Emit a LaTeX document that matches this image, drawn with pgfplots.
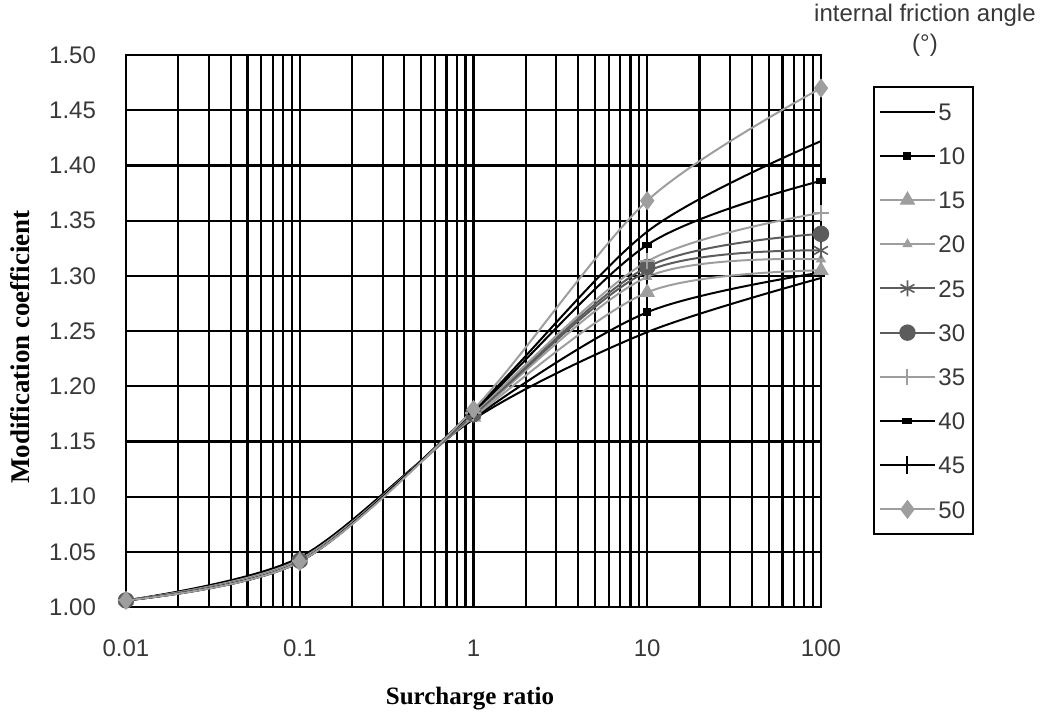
\documentclass[border=0pt]{standalone}
\usepackage{fontspec}
\setmainfont{Liberation Sans}
\newfontfamily\tnr{Liberation Serif}
\usepackage{pgfplots}
\pgfplotsset{compat=1.18}
\definecolor{lgray}{gray}{0.62}
\definecolor{dgray}{gray}{0.36}
\definecolor{txt}{gray}{0.22}

\begin{document}
\begin{tikzpicture}
\useasboundingbox (-63pt,-53.5pt) rectangle (457pt,303.5pt);
\begin{axis}[
  scale only axis, width=347.5pt, height=276pt,
  xmode=log, xmin=0.01, xmax=100, ymin=1, ymax=1.5,
  xtick={0.01,0.1,1,10,100}, xticklabels={0.01,0.1,1,10,100},
  ytick={1,1.05,...,1.51},
  yticklabel style={/pgf/number format/fixed, /pgf/number format/fixed zerofill,
    /pgf/number format/precision=2, xshift=-11.5pt},
  /pgf/number format/assume math mode=true,
  xmajorgrids, xminorgrids, ymajorgrids,
  grid style={black, line width=1.1pt},
  minor grid style={black, line width=1.1pt},
  axis line style={black, line width=1.1pt},
  major tick length=0pt, minor tick length=0pt,
  tick label style={font=\fontsize{12}{12}\selectfont, text=txt},
  xticklabel style={yshift=-13pt},
  xlabel={\tnr\bfseries Surcharge ratio},
  ylabel={\tnr\bfseries Modification coefficient},
  xlabel style={font=\fontsize{12.5}{14}\selectfont, at={(axis description cs:0.495,-0.1667)}, anchor=center},
  ylabel style={font=\fontsize{13.5}{15}\selectfont, at={(axis description cs:-0.1525,0.471)}, anchor=center},
  clip=false,
  every axis plot/.append style={line width=1pt, smooth, tension=0.5},
  legend image code/.code={\draw[mark repeat=2,mark phase=2] plot coordinates {(0pt,0pt) (13.75pt,0pt) (27.5pt,0pt)};},
  legend style={at={(1.0748,0.9438)}, anchor=north west, draw=black, line width=1pt,
    inner xsep=2.5pt, inner ysep=6pt, row sep=9.5pt, text=txt,
    font=\fontsize{12}{12}\selectfont,
    nodes={inner xsep=1.25pt, inner ysep=2pt, text height=8.6pt, text depth=0pt}},
  legend cell align=left,
]
\addplot[black, no marks] coordinates {(0.01,1.006)(0.1,1.045)(1,1.170)(10,1.249)(100,1.298)};
\addlegendentry{5}
\addplot[black, mark=square*, mark size=1.5pt, mark options={solid}] coordinates {(0.01,1.006)(0.1,1.044)(1,1.171)(10,1.267)(100,1.303)};
\addlegendentry{10}
\addplot[lgray, mark=triangle*, mark size=4pt, mark options={solid, line width=0.5pt}] coordinates {(0.01,1.006)(0.1,1.043)(1,1.172)(10,1.285)(100,1.305)};
\addlegendentry{15}
\addplot[lgray, mark=triangle*, mark size=2pt] coordinates {(0.01,1.006)(0.1,1.043)(1,1.173)(10,1.299)(100,1.315)};
\addlegendentry{20}
\addplot[dgray, mark=asterisk, mark size=4pt, mark options={line width=0.8pt}] coordinates {(0.01,1.006)(0.1,1.042)(1,1.174)(10,1.304)(100,1.323)};
\addlegendentry{25}
\addplot[dgray, mark=*, mark size=3.6pt] coordinates {(0.01,1.006)(0.1,1.042)(1,1.175)(10,1.308)(100,1.338)};
\addlegendentry{30}
\addplot[lgray, mark=+, mark size=4pt] coordinates {(0.01,1.006)(0.1,1.042)(1,1.176)(10,1.313)(100,1.357)};
\addlegendentry{35}
\addplot[black, mark=square*, mark size=2pt, mark options={yscale=0.5}] coordinates {(0.01,1.006)(0.1,1.041)(1,1.177)(10,1.328)(100,1.386)};
\addlegendentry{40}
\addplot[black, mark=|, mark size=4.5pt] coordinates {(0.01,1.006)(0.1,1.041)(1,1.178)(10,1.340)(100,1.422)};
\addlegendentry{45}
\addplot[lgray, mark=diamond*, mark size=4pt] coordinates {(0.01,1.006)(0.1,1.041)(1,1.179)(10,1.368)(100,1.470)};
\addlegendentry{50}
\node[font=\fontsize{12}{12}\selectfont, text=txt] at (rel axis cs:1.1496,1.0725) {internal friction angle};
\node[font=\fontsize{12}{12}\selectfont, text=txt] at (rel axis cs:1.1496,1.018) {(°)};
\end{axis}
\end{tikzpicture}
\end{document}
